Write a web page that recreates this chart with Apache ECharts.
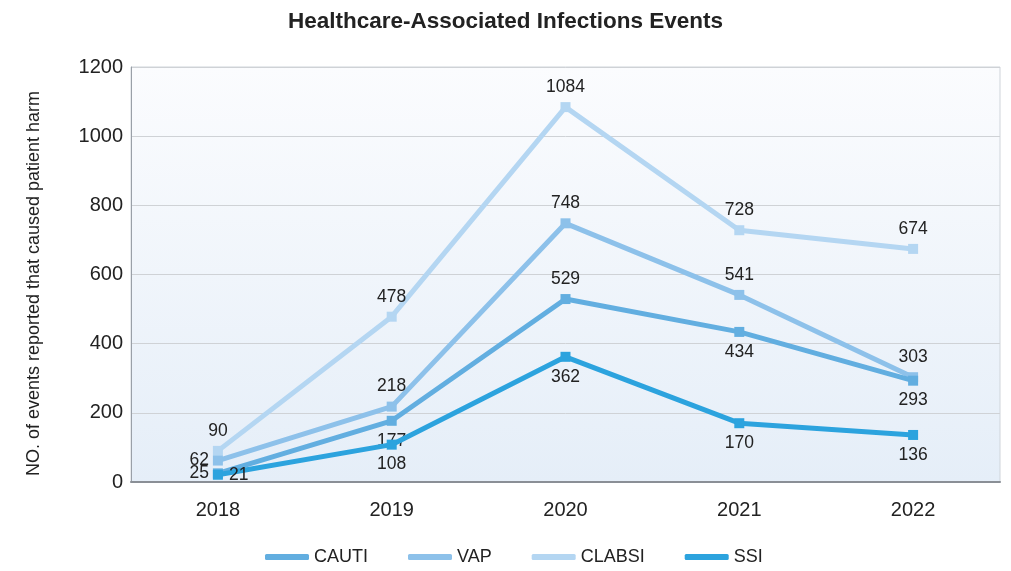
<!DOCTYPE html>
<html>
<head>
<meta charset="utf-8">
<script src="https://cdn.jsdelivr.net/npm/echarts@6/dist/echarts.min.js"></script>
<style>
  html, body { margin: 0; padding: 0; background: #fff; }
  #chart { width: 1011px; height: 571px; }
</style>
</head>
<body>
<div id="chart"></div>
<script>
const years = ['2018', '2019', '2020', '2021', '2022'];
const cauti = [25, 177, 529, 434, 293];
const vap = [62, 218, 748, 541, 303];
const clabsi = [90, 478, 1084, 728, 674];
const ssi = [21, 108, 362, 170, 136];

// label placement per point
const cautiPos = ['left', 'bottom', 'top', 'bottom', 'bottom'];
const vapPos = ['left', 'top', 'top', 'top', 'top'];
const clabsiPos = ['top', 'top', 'top', 'top', 'top'];
const ssiPos = ['right', 'bottom', 'bottom', 'bottom', 'bottom'];

const chart = echarts.init(document.getElementById('chart'));
const font = 'Liberation Sans, Arial, Helvetica, sans-serif';

function makeSeries(name, values, color, pos, z) {
    return {
        name: name,
        type: 'line',
        data: values.map((v, i) => ({
            value: v,
            label: { position: pos[i], distance: pos[i] === 'left' ? 4 : 6 }
        })),
        symbol: 'rect',
        symbolSize: 10,
        z: z,
        lineStyle: { color: color, width: 5 },
        itemStyle: { color: color },
        label: {
            show: true,
            color: '#222',
            fontSize: 17.5,
            fontFamily: font
        }
    };
}

chart.setOption({
    animation: false,
    title: {
        text: 'Healthcare-Associated Infections Events',
        left: 'center',
        top: 5,
        textStyle: { fontSize: 22.5, fontWeight: 'bold', color: '#222', fontFamily: font }
    },
    legend: {
        bottom: 0,
        left: 260,
        itemGap: 40,
        itemWidth: 44,
        itemHeight: 6,
        icon: 'roundRect',
        textStyle: { fontSize: 18, color: '#222', fontFamily: font },
        data: ['CAUTI', 'VAP', 'CLABSI', 'SSI']
    },
    grid: {
        left: 131,
        right: 11,
        top: 67,
        bottom: 89,
        show: true,
        borderWidth: 1,
        borderColor: '#cfd4da',
        backgroundColor: new echarts.graphic.LinearGradient(0, 0, 0, 1, [
            { offset: 0, color: '#fbfcfe' },
            { offset: 1, color: '#e5eef8' }
        ])
    },
    xAxis: {
        type: 'category',
        data: years,
        boundaryGap: true,
        axisLine: { lineStyle: { color: '#8a8f96', width: 2 } },
        axisTick: { show: false },
        axisLabel: { fontSize: 20, color: '#222', margin: 18, fontFamily: font }
    },
    yAxis: {
        type: 'value',
        min: 0,
        max: 1200,
        interval: 200,
        name: 'NO. of events reported that caused patient harm',
        nameLocation: 'middle',
        nameGap: 88,
        nameTextStyle: { fontSize: 18, color: '#222', fontFamily: font, padding: [0, 18, 0, 0] },
        axisLine: { show: true, lineStyle: { color: '#9aa0a8' } },
        axisTick: { show: false },
        axisLabel: { fontSize: 20, color: '#222', margin: 8, fontFamily: font, formatter: v => String(v) },
        splitLine: { lineStyle: { color: '#cfd2d6', width: 1 } }
    },
    series: [
        makeSeries('CAUTI', cauti, '#62aee0', cautiPos, 3),
        makeSeries('VAP', vap, '#8dc1ea', vapPos, 2),
        makeSeries('CLABSI', clabsi, '#b4d6f2', clabsiPos, 1),
        makeSeries('SSI', ssi, '#2ca3de', ssiPos, 4)
    ]
});
</script>
</body>
</html>
